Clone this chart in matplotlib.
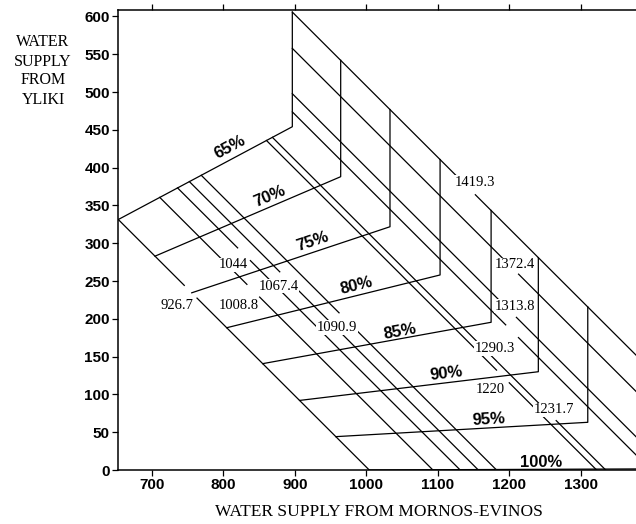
import numpy as np
import matplotlib.pyplot as plt

# reliability curves: each starts on the lowest total line, rises to a corner,
# then goes straight up to the highest total line
reliability = ['65%', '70%', '75%', '80%', '85%', '90%', '95%', '100%']
start_x = [653.3, 704.6, 755.9, 804.8, 855.1, 906.6, 957.3, 1004.0]
corner_x = [896.5, 964.1, 1033.0, 1103.0, 1174.3, 1240.3, 1309.4, 1400.0]
corner_y = [454.1, 388.0, 321.8, 258.0, 195.4, 130.0, 63.1, 1.5]

# iso-total lines:  A_MORNOS * mornos + B_YLIKI * yliki = total
totals = [926.7, 1008.8, 1044, 1067.4, 1090.9, 1220, 1231.7,
          1290.3, 1313.8, 1372.4, 1419.3]
A_MORNOS = 0.923
B_YLIKI = 0.977

x_ticks = [700, 800, 900, 1000, 1100, 1200, 1300]
y_ticks = list(range(0, 601, 50))

# where the text goes (data coords)
total_label_xy = [(734.9, 217.3), (821.0, 217.3), (814.0, 271.2), (876.9, 243.4),
                  (959.4, 188.8), (1172.8, 106.7), (1262.3, 79.4), (1179.8, 161.0),
                  (1207.7, 216.9), (1207.7, 271.2), (1151.9, 380.6)]
pct_label_xy = [(809.4, 427.6), (865.3, 361.5), (925.0, 302.0), (986.5, 243.4),
                (1047.0, 183.0), (1111.0, 128.0), (1170.4, 66.1), (1244.0, 10.2)]


def yliki_on_total(total, x):
    return (total - A_MORNOS * x) / B_YLIKI


plt.rcParams['font.family'] = ['Liberation Sans', 'DejaVu Sans']
fig = plt.figure(figsize=(6.36, 5.24), dpi=100)
ax = fig.add_axes([118.3 / 636, 54 / 524, (652.6 - 118.3) / 636, 460 / 524])
ax.set_xlim(653.3, 1400)
ax.set_ylim(0, 608.5)

lw = 0.9
# reliability curves
for i, lab in enumerate(reliability):
    sx = start_x[i]
    sy = max(yliki_on_total(totals[0], sx), 0)
    cx, cy = corner_x[i], corner_y[i]
    top = yliki_on_total(totals[-1], cx)
    ax.plot([sx, cx, cx], [sy, cy, top], color='black', lw=lw, zorder=2)

    p0 = ax.transData.transform((sx, sy))
    p1 = ax.transData.transform((cx, cy))
    ang = np.degrees(np.arctan2(p1[1] - p0[1], p1[0] - p0[0]))
    tx, ty = pct_label_xy[i]
    ax.text(tx, ty, lab, rotation=ang, rotation_mode='anchor', ha='center', va='center',
            fontsize=12, fontweight='bold', zorder=4)

# total lines start on the 65% curve
x0, y0 = start_x[0], yliki_on_total(totals[0], start_x[0])
dx, dy = corner_x[0] - x0, corner_y[0] - y0
for i, tot in enumerate(totals):
    t = (tot - A_MORNOS * x0 - B_YLIKI * y0) / (A_MORNOS * dx + B_YLIKI * dy)
    if t <= 1:
        bx, by = x0 + t * dx, y0 + t * dy
    else:
        bx = corner_x[0]
        by = yliki_on_total(tot, bx)
    ex, ey = tot / A_MORNOS, 0.0

    # break the line next to its value
    pb = ax.transData.transform((bx, by))
    pe = ax.transData.transform((ex, ey))
    pl = ax.transData.transform(total_label_xy[i])
    u = (pe - pb) / np.hypot(*(pe - pb))
    s = np.dot(pl - pb, u)
    gap = 9
    inv = ax.transData.inverted()
    g1 = inv.transform(pb + u * (s - gap))
    g2 = inv.transform(pb + u * (s + gap))
    ax.plot([bx, g1[0]], [by, g1[1]], color='black', lw=lw, zorder=2)
    ax.plot([g2[0], ex], [g2[1], ey], color='black', lw=lw, zorder=2)

    tx, ty = total_label_xy[i]
    ax.text(tx, ty, f'{tot:g}', ha='center', va='center', fontsize=10.5,
            family=['Liberation Serif', 'DejaVu Serif'], zorder=5,
            bbox=dict(facecolor='white', edgecolor='none', pad=0.5))

ax.set_xticks(x_ticks)
ax.set_yticks(y_ticks)
ax.tick_params(direction='out', length=4, width=0.9, top=True, labeltop=False,
               labelsize=11, pad=2)
for lab in ax.get_xticklabels() + ax.get_yticklabels():
    lab.set_fontweight('bold')
for sp in ax.spines.values():
    sp.set_linewidth(1.1)

fig.text(379 / 636, 1 - 511.7 / 524, 'WATER SUPPLY FROM MORNOS-EVINOS',
         ha='center', va='center', fontsize=12.5, family='Liberation Serif')
fig.text(43 / 636, 1 - 71 / 524, 'WATER\nSUPPLY\nFROM\nYLIKI', ha='center', va='center',
         fontsize=11.5, family='Liberation Serif', linespacing=1.25)

fig.savefig('out.png', dpi=100)
